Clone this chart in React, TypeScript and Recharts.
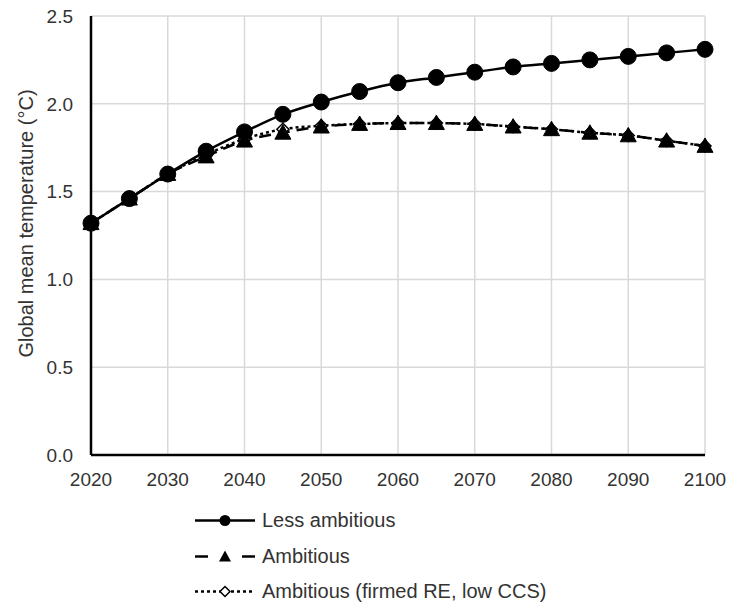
import { LineChart, Line, XAxis, YAxis, CartesianGrid, Legend, Label } from 'recharts';

const FONT = '"Liberation Sans", Arial, sans-serif';
const TEXT = '#333333';

// years every 5 from 2020 to 2100
const years = [2020, 2025, 2030, 2035, 2040, 2045, 2050, 2055, 2060, 2065, 2070, 2075, 2080, 2085, 2090, 2095, 2100];
const lessAmbitious = [1.32, 1.46, 1.6, 1.73, 1.84, 1.94, 2.01, 2.07, 2.12, 2.15, 2.18, 2.21, 2.23, 2.25, 2.27, 2.29, 2.31];
const ambitious = [1.32, 1.46, 1.6, 1.7, 1.79, 1.835, 1.87, 1.885, 1.89, 1.89, 1.885, 1.87, 1.855, 1.835, 1.82, 1.79, 1.76];
const ambitiousFirmed = [1.32, 1.46, 1.6, 1.71, 1.8, 1.855, 1.875, 1.885, 1.89, 1.89, 1.885, 1.87, 1.855, 1.835, 1.82, 1.79, 1.76];

const xTicks = [2020, 2030, 2040, 2050, 2060, 2070, 2080, 2090, 2100];
const yTicks = [0, 0.5, 1, 1.5, 2, 2.5];

const legendLabels = ['Less ambitious', 'Ambitious', 'Ambitious (firmed RE, low CCS)'];

const chartData = years.map((year, i) => ({
  year,
  less: lessAmbitious[i],
  amb: ambitious[i],
  firmed: ambitiousFirmed[i],
}));

// marker shapes
function TriangleDot(props: any) {
  const { cx, cy, index } = props;
  if (cx == null || cy == null) return <g key={`t-${index}`} />;
  const s = 8;
  return (
    <path
      key={`t-${index}`}
      d={`M${cx},${cy - s} L${cx + s},${cy + s * 0.8} L${cx - s},${cy + s * 0.8} Z`}
      fill="#000"
      stroke="#000"
      strokeWidth={1}
    />
  );
}

function DiamondDot(props: any) {
  const { cx, cy, index } = props;
  if (cx == null || cy == null) return <g key={`d-${index}`} />;
  const s = 6;
  return (
    <path
      key={`d-${index}`}
      d={`M${cx},${cy - s} L${cx + s},${cy} L${cx},${cy + s} L${cx - s},${cy} Z`}
      fill="#fff"
      stroke="#000"
      strokeWidth={1.5}
    />
  );
}

function YTitle({ viewBox }: any) {
  const cy = viewBox.y + viewBox.height / 2 - 12;
  const x = 33;
  return (
    <text
      x={x}
      y={cy}
      transform={`rotate(-90 ${x} ${cy})`}
      textAnchor="middle"
      fontFamily={FONT}
      fontSize={20}
      fill={TEXT}
    >
      Global mean temperature (°C)
    </text>
  );
}

// legend sample: line + marker
function LegendSample({ kind }: { kind: number }) {
  const y = 17.5;
  return (
    <svg width={62} height={35} style={{ display: 'block' }}>
      {kind === 0 && (
        <>
          <line x1={0} y1={y} x2={60} y2={y} stroke="#000" strokeWidth={2.5} />
          <circle cx={30} cy={y} r={5.5} fill="#000" />
        </>
      )}
      {kind === 1 && (
        <>
          <line x1={0} y1={y} x2={13} y2={y} stroke="#000" strokeWidth={2.5} />
          <line x1={47} y1={y} x2={60} y2={y} stroke="#000" strokeWidth={2.5} />
          <path d={`M30,${y - 6} L36,${y + 5} L24,${y + 5} Z`} fill="#000" />
        </>
      )}
      {kind === 2 && (
        <>
          <line x1={0} y1={y} x2={60} y2={y} stroke="#000" strokeWidth={2.5} strokeDasharray="3 3" />
          <path d={`M30,${y - 5} L35,${y} L30,${y + 5} L25,${y} Z`} fill="#fff" stroke="#000" strokeWidth={1.5} />
        </>
      )}
    </svg>
  );
}

function renderLegend() {
  return (
    <div style={{ fontFamily: FONT, fontSize: 20, color: TEXT }}>
      {legendLabels.map((label, i) => (
        <div key={label} style={{ display: 'flex', alignItems: 'center', height: 35.5 }}>
          <LegendSample kind={i} />
          <span style={{ marginLeft: 5 }}>{label}</span>
        </div>
      ))}
    </div>
  );
}

export default function App() {
  return (
    <div style={{ position: 'absolute', left: 0, top: 0, background: '#fff' }}>
      <LineChart
        width={730}
        height={607}
        data={chartData}
        margin={{ top: 16, right: 25, left: 0, bottom: 122 }}
      >
        <CartesianGrid stroke="#d9d9d9" strokeWidth={1.5} />
        <XAxis
          dataKey="year"
          type="number"
          domain={[2020, 2100]}
          ticks={xTicks}
          interval={0}
          height={30}
          tickLine={false}
          tickSize={0}
          tickMargin={18}
          axisLine={{ stroke: '#000', strokeWidth: 2.5 }}
          tick={{ fontFamily: FONT, fontSize: 19, fill: TEXT }}
        />
        <YAxis
          type="number"
          domain={[0, 2.5]}
          ticks={yTicks}
          interval={0}
          width={91}
          tickLine={false}
          tickSize={0}
          tickMargin={18}
          tickFormatter={(v: number) => v.toFixed(1)}
          axisLine={{ stroke: '#000', strokeWidth: 2.5 }}
          tick={{ fontFamily: FONT, fontSize: 19, fill: TEXT }}
        >
          <Label content={YTitle} />
        </YAxis>
        <Legend
          layout="vertical"
          align="center"
          verticalAlign="middle"
          content={renderLegend}
          wrapperStyle={{ position: 'absolute', left: 195, top: 503, width: 'auto', height: 'auto' }}
        />
        <Line
          type="monotone"
          dataKey="firmed"
          stroke="#000"
          strokeWidth={2.5}
          strokeDasharray="3 3"
          dot={DiamondDot}
          isAnimationActive={false}
        />
        <Line
          type="monotone"
          dataKey="amb"
          stroke="#000"
          strokeWidth={2.5}
          strokeDasharray="12 7"
          dot={TriangleDot}
          isAnimationActive={false}
        />
        <Line
          type="monotone"
          dataKey="less"
          stroke="#000"
          strokeWidth={2.5}
          dot={{ r: 8, fill: '#000', stroke: '#000', strokeWidth: 1 }}
          isAnimationActive={false}
        />
      </LineChart>
    </div>
  );
}
